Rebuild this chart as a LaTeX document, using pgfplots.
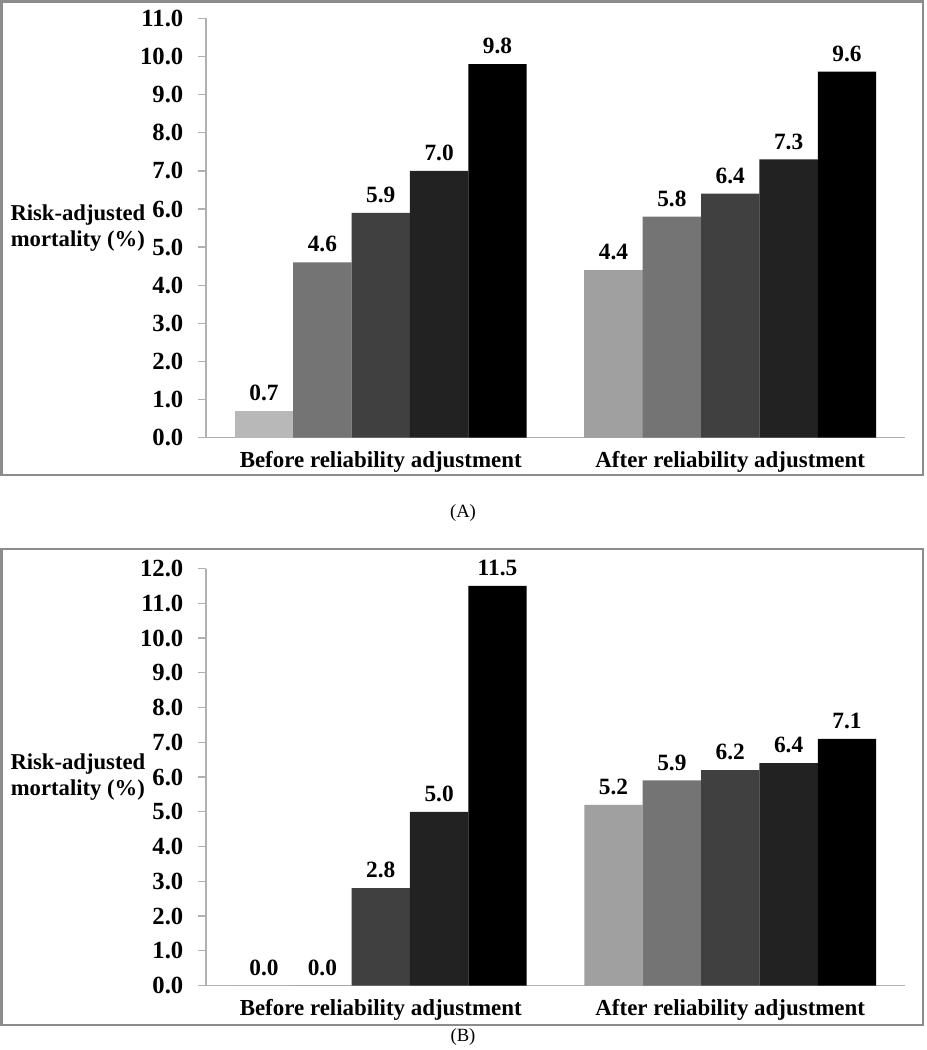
\documentclass[border=0pt]{standalone}
\usepackage{pgfplots}
\pgfplotsset{compat=1.18}
\usepackage{fontspec}
\setmainfont{Liberation Serif}
\definecolor{cA}{HTML}{A0A0A0}
\definecolor{cAl}{HTML}{B8B8B8}
\definecolor{cB}{HTML}{747474}
\definecolor{cC}{HTML}{404040}
\definecolor{cD}{HTML}{222222}
\definecolor{cE}{HTML}{000000}
\definecolor{axgray}{HTML}{B0B0B0}
\definecolor{framegray}{HTML}{8C8C8C}
\newcommand{\tickbf}{\bfseries\fontsize{18.5}{20}\selectfont}
\newcommand{\valbf}{\bfseries\fontsize{17.5}{19}\selectfont}
\newcommand{\labbf}{\bfseries\fontsize{17}{19.5}\selectfont}
\newcommand{\catbf}{\bfseries\fontsize{17.2}{19}\selectfont}
\pgfplotsset{
  panel/.style={
    scale only axis,
    width=524.25pt,
    xmin=-0.5, xmax=1.5,
    ymin=0,
    axis x line=bottom, axis y line=left,
    axis line style={-, draw=axgray, line width=1pt},
    xtick={0,1},
    xticklabels={Before reliability adjustment, After reliability adjustment},
    x tick style={draw=none},
    y tick style={draw=axgray, line width=1pt},
    tick align=outside,
    major tick length=6pt,
    ytick distance=1,
    /pgf/number format/.cd, fixed, fixed zerofill, precision=1, assume math mode=true,
    /pgfplots/.cd,
    yticklabel style={font=\tickbf, text=black, xshift=-7.5pt},
    xticklabel style={font=\catbf, text=black, yshift=-1pt},
    ylabel={Risk-adjusted\\mortality (\%)},
    every axis y label/.style={at={(rel axis cs:0,0.5)}, anchor=east, xshift=-42pt, align=center, font=\labbf},
    ybar=0pt,
    bar width=0.167,
    nodes near coords,
    nodes near coords style={font=\valbf, text=black, yshift=4pt,
      /pgf/number format/.cd, fixed, fixed zerofill, precision=1},
    clip=false,
  },
}
\begin{document}
\begin{tikzpicture}[x=0.75pt, y=-0.75pt]
\useasboundingbox (0,0) rectangle (926,1050);
\draw[framegray, line width=1.6pt] (1.5,1.5) rectangle (923,475);
\draw[framegray, line width=1.6pt] (1.5,549) rectangle (923,1025);
\coordinate (oA) at (206,437.7);
\coordinate (oB) at (206,985.5);
\begin{axis}[panel, at={(oA)}, anchor=south west, height=314.5pt, ymax=11]
\addplot[fill=cAl, draw=none, bar shift=-0.334] coordinates {(0,0.7)};
\addplot[fill=cA, draw=none, bar shift=-0.334] coordinates {(1,4.4)};
\addplot[fill=cB, draw=none, bar shift=-0.167] coordinates {(0,4.6) (1,5.8)};
\addplot[fill=cC, draw=none, bar shift=0] coordinates {(0,5.9) (1,6.4)};
\addplot[fill=cD, draw=none, bar shift=0.167] coordinates {(0,7.0) (1,7.3)};
\addplot[fill=cE, draw=none, bar shift=0.334] coordinates {(0,9.8) (1,9.6)};
\end{axis}
\node[font=\fontsize{14}{16}\selectfont] at (463,513) {(A)};
\begin{axis}[panel, at={(oB)}, anchor=south west, height=312.75pt, ymax=12]
\addplot[fill=cA, draw=none, bar shift=-0.334] coordinates {(0,0.0) (1,5.2)};
\addplot[fill=cB, draw=none, bar shift=-0.167] coordinates {(0,0.0) (1,5.9)};
\addplot[fill=cC, draw=none, bar shift=0] coordinates {(0,2.8) (1,6.2)};
\addplot[fill=cD, draw=none, bar shift=0.167] coordinates {(0,5.0) (1,6.4)};
\addplot[fill=cE, draw=none, bar shift=0.334] coordinates {(0,11.5) (1,7.1)};
\end{axis}
\node[font=\fontsize{14}{16}\selectfont] at (463,1037) {(B)};
\end{tikzpicture}
\end{document}
